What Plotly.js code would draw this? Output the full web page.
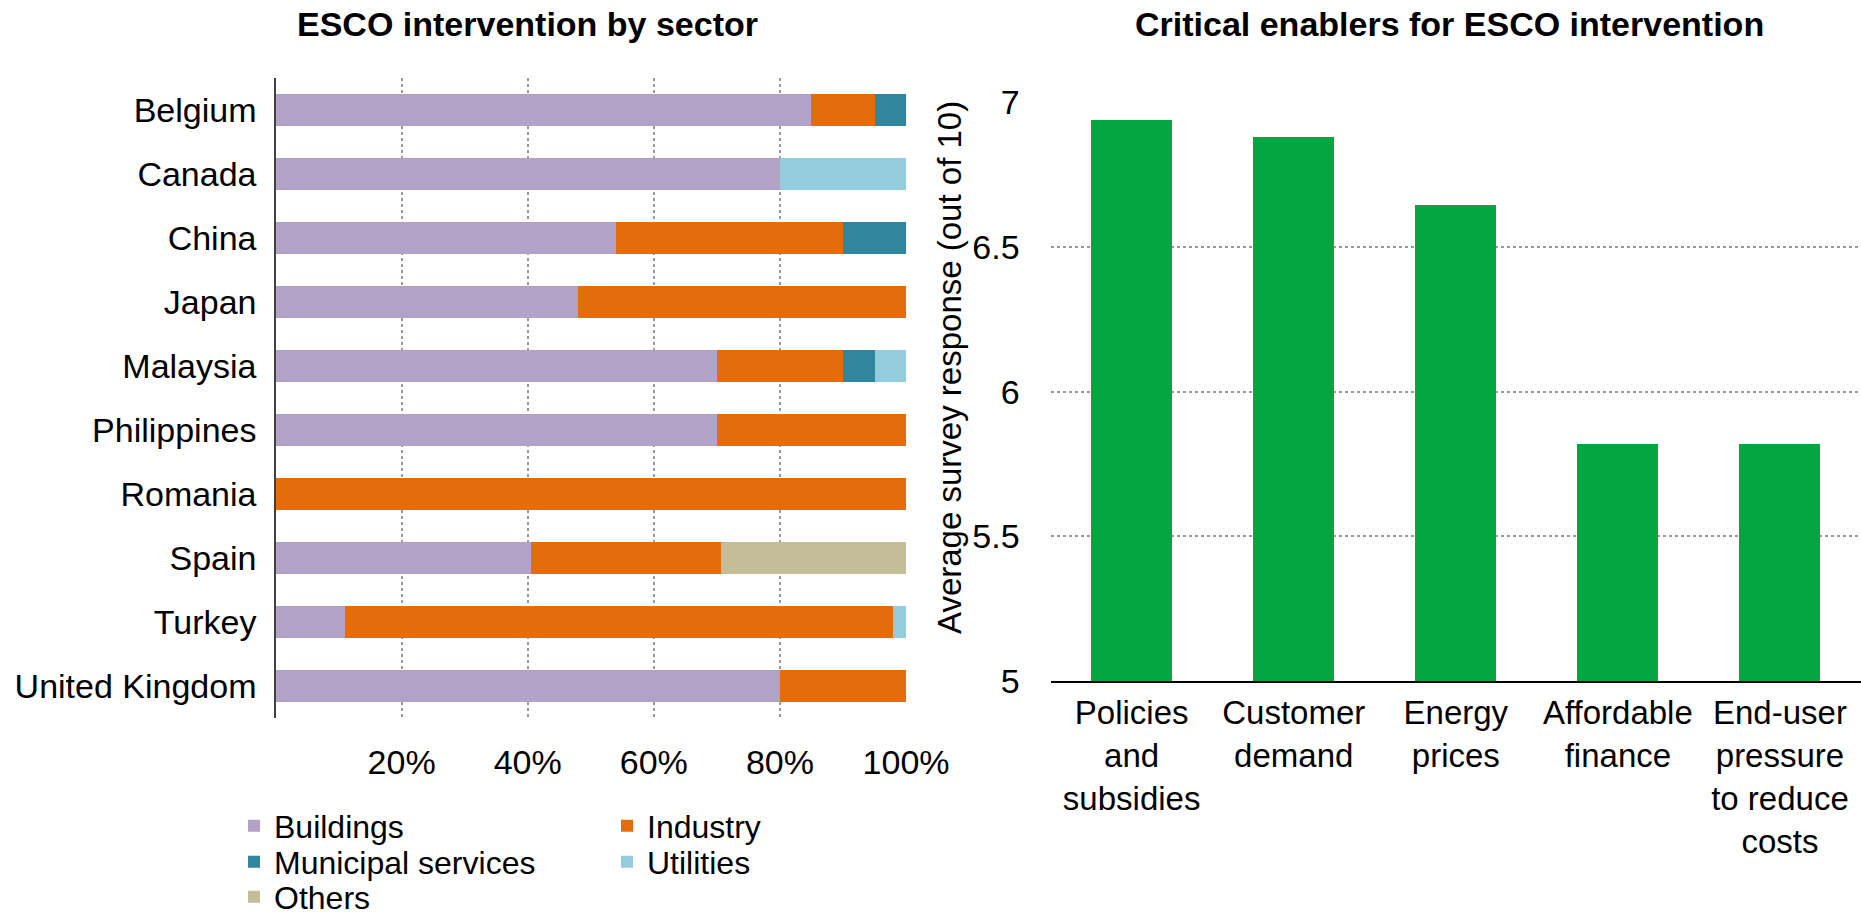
<!DOCTYPE html>
<html>
<head>
<meta charset="utf-8">
<script src="https://cdn.plot.ly/plotly-3.0.1.min.js"></script>
<style>
html, body { margin: 0; padding: 0; background: #ffffff; }
#chart { width: 1861px; height: 915px; }
</style>
</head>
<body>
<div id="chart"></div>
<script>
// ---- Left chart: ESCO intervention by sector (shares, %) ----
const countries = ['Belgium', 'Canada', 'China', 'Japan', 'Malaysia', 'Philippines', 'Romania', 'Spain', 'Turkey', 'United Kingdom'];
const buildings = [85, 80, 54, 48, 70, 70, 0, 40.5, 11, 80];
const industry  = [10, 0, 36, 52, 20, 30, 100, 30.2, 87, 20];
const municipal = [5, 0, 10, 0, 5, 0, 0, 0, 0, 0];
const utilities = [0, 20, 0, 0, 5, 0, 0, 0, 2, 0];
const others    = [0, 0, 0, 0, 0, 0, 0, 29.3, 0, 0];
const sectorNames = ['Buildings', 'Industry', 'Municipal services', 'Utilities', 'Others'];
const pctTickVals = [20, 40, 60, 80, 100];
const pctTickText = ['20%', '40%', '60%', '80%', '100%'];

// ---- Right chart: Critical enablers (average score out of 10) ----
const enablers = ['Policies and subsidies', 'Customer demand', 'Energy prices', 'Affordable finance', 'End-user pressure to reduce costs'];
const enablerLabels = ['Policies<br>and<br>subsidies', 'Customer<br>demand', 'Energy<br>prices', 'Affordable<br>finance', 'End-user<br>pressure<br>to reduce<br>costs'];
const scores = [6.94, 6.88, 6.645, 5.82, 5.82];
const scoreTickVals = [5, 5.5, 6, 6.5, 7];
const scoreTickText = ['5', '5.5', '6', '6.5', '7'];

const titles = ['ESCO intervention by sector', 'Critical enablers for ESCO intervention'];
const yTitleRight = 'Average survey response (out of 10)';

// ---- styles ----
const FONT = 'Liberation Sans, Arial, Helvetica, sans-serif';
const sectorColors = ['#B3A2C7', '#E46C0A', '#31859C', '#93CDDD', '#C4BD97'];
const sectorLegends = ['legend', 'legend', 'legend2', 'legend2', 'legend3'];
const sectorSeries = [buildings, industry, municipal, utilities, others];
const W = 1861, H = 915;
const px = v => v / W;
const py = v => 1 - v / H;

const traces = sectorSeries.map((vals, i) => ({
  type: 'bar',
  orientation: 'h',
  name: sectorNames[i],
  x: vals,
  y: countries,
  xaxis: 'x',
  yaxis: 'y',
  marker: { color: sectorColors[i], line: { width: 0 } },
  legend: sectorLegends[i],
  hoverinfo: 'skip'
}));

traces.push({
  type: 'bar',
  name: 'Average score',
  x: enablers,
  y: scores,
  xaxis: 'x2',
  yaxis: 'y2',
  marker: { color: '#03A640', line: { width: 0 } },
  showlegend: false,
  hoverinfo: 'skip'
});

const legendBase = {
  orientation: 'h',
  traceorder: 'normal',
  xref: 'paper', yref: 'paper',
  xanchor: 'left', yanchor: 'middle',
  x: px(234),
  font: { family: FONT, size: 32, color: '#000' },
  bgcolor: 'rgba(0,0,0,0)',
  borderwidth: 0,
  entrywidth: 328,
  entrywidthmode: 'pixels',
  itemclick: false, itemdoubleclick: false
};

const layout = {
  width: W, height: H,
  margin: { l: 0, r: 0, t: 0, b: 0, pad: 0, autoexpand: false },
  paper_bgcolor: '#ffffff',
  plot_bgcolor: 'rgba(0,0,0,0)',
  font: { family: FONT, size: 33, color: '#000' },
  barmode: 'stack',
  bargap: 0.5,
  showlegend: true,
  xaxis: {
    domain: [px(275.5), px(907)],
    anchor: 'y',
    range: [0, 100.15],
    tickvals: pctTickVals,
    ticktext: pctTickText,
    showgrid: true, gridcolor: '#9a9a9a', griddash: 'dot', gridwidth: 2,
    zeroline: false, showline: false, ticks: '',
    ticklabelstandoff: 21,
    tickfont: { family: FONT, size: 34, color: '#000' },
    fixedrange: true
  },
  yaxis: {
    domain: [py(718.3), py(77.7)],
    anchor: 'x',
    type: 'category',
    categoryorder: 'array', categoryarray: countries,
    range: [9.5, -0.5],
    showline: true, linecolor: '#404040', linewidth: 1.2,
    showgrid: false, zeroline: false, ticks: '',
    ticklabelstandoff: 11,
    tickfont: { family: FONT, size: 34, color: '#000' },
    fixedrange: true
  },
  xaxis2: {
    domain: [px(1050.6), 1],
    anchor: 'y2',
    type: 'category',
    categoryorder: 'array', categoryarray: enablers,
    tickvals: enablers,
    ticktext: enablerLabels,
    showline: true, linecolor: '#000', linewidth: 1.5,
    showgrid: false, zeroline: false, ticks: '',
    ticklabelstandoff: 2,
    tickfont: { family: FONT, size: 33, color: '#000' },
    fixedrange: true
  },
  yaxis2: {
    domain: [py(681), py(101.7)],
    anchor: 'x2',
    range: [5, 7.003],
    tickvals: scoreTickVals,
    ticktext: scoreTickText,
    showgrid: true, gridcolor: '#9a9a9a', griddash: 'dot', gridwidth: 2,
    zeroline: false, showline: false, ticks: '',
    ticklabelstandoff: 30,
    tickfont: { family: FONT, size: 34, color: '#000' },
    fixedrange: true
  },
  legend: Object.assign({}, legendBase, { y: py(826) }),
  legend2: Object.assign({}, legendBase, { y: py(862) }),
  legend3: Object.assign({}, legendBase, { y: py(897) }),
  annotations: [
    {
      text: '<b>' + titles[0] + '</b>',
      xref: 'paper', yref: 'paper', x: px(527), y: py(24),
      xanchor: 'center', yanchor: 'middle', showarrow: false,
      font: { family: FONT, size: 34, color: '#000' }
    },
    {
      text: '<b>' + titles[1] + '</b>',
      xref: 'paper', yref: 'paper', x: px(1449), y: py(24),
      xanchor: 'center', yanchor: 'middle', showarrow: false,
      font: { family: FONT, size: 34, color: '#000' }
    },
    {
      text: yTitleRight,
      xref: 'paper', yref: 'paper', x: px(950), y: py(368),
      xanchor: 'center', yanchor: 'middle', showarrow: false,
      textangle: -90,
      font: { family: FONT, size: 33, color: '#000' }
    }
  ]
};

Plotly.newPlot('chart', traces, layout, { displayModeBar: false, staticPlot: true, responsive: false });
</script>
</body>
</html>
